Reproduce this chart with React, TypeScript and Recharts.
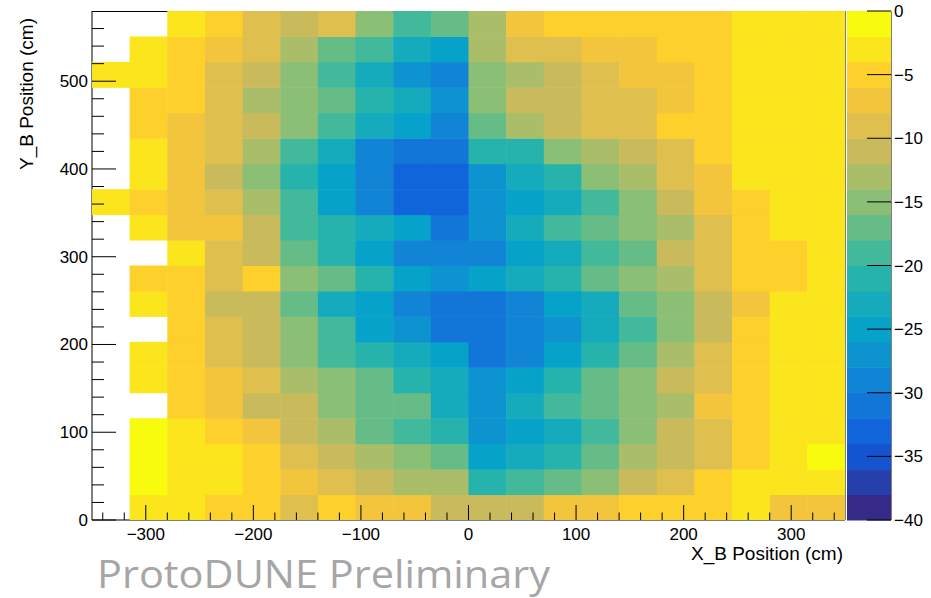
import React from 'react';
import { ScatterChart, Scatter, XAxis, YAxis, ReferenceLine } from 'recharts';

// bin centres (cm)
const X_CENTERS = [-332.5, -297.5, -262.5, -227.5, -192.5, -157.5, -122.5, -87.5, -52.5, -17.5, 17.5, 52.5, 87.5, 122.5, 157.5, 192.5, 227.5, 262.5, 297.5, 332.5];
const Y_CENTERS = [14.5, 43.5, 72.5, 101.5, 130.5, 159.5, 188.5, 217.5, 246.5, 275.5, 304.5, 333.5, 362.5, 391.5, 420.5, 449.5, 478.5, 507.5, 536.5, 565.5];

// bin contents per row, bottom row first (null = empty bin)
const ROW_00 = [null, -3, -3, -5, -5, -9, -5, -7, -7, -11, -11, -11, -7, -7, -5, -5, -5, -3, -7, -7];
const ROW_01 = [null, -1, -3, -3, -5, -7, -9, -11, -13, -13, -21, -19, -17, -15, -11, -9, -5, -3, -3, -3];
const ROW_02 = [null, -1, -3, -3, -5, -9, -11, -13, -15, -17, -25, -23, -21, -17, -13, -11, -9, -5, -3, -1];
const ROW_03 = [null, -1, -3, -5, -7, -11, -13, -17, -19, -21, -27, -25, -23, -19, -15, -11, -9, -5, -3, -3];
const ROW_04 = [null, null, -5, -7, -11, -11, -15, -17, -17, -23, -27, -23, -19, -17, -15, -13, -7, -5, -3, -3];
const ROW_05 = [null, -3, -5, -7, -9, -13, -15, -17, -21, -23, -27, -25, -21, -17, -15, -11, -9, -5, -3, -3];
const ROW_06 = [null, -3, -5, -9, -11, -15, -19, -21, -23, -25, -31, -29, -25, -21, -17, -13, -9, -5, -3, -3];
const ROW_07 = [null, null, -5, -9, -11, -15, -19, -25, -27, -31, -31, -29, -27, -23, -19, -15, -11, -5, -3, -3];
const ROW_08 = [null, -3, -5, -11, -11, -17, -23, -25, -29, -31, -31, -29, -25, -23, -17, -15, -11, -7, -3, -3];
const ROW_09 = [null, -5, -5, -9, -5, -15, -17, -21, -25, -27, -25, -23, -21, -17, -15, -13, -9, -5, -5, -3];
const ROW_10 = [null, null, -3, -9, -11, -17, -21, -25, -29, -29, -29, -25, -23, -19, -17, -11, -9, -5, -5, -3];
const ROW_11 = [null, -3, -7, -7, -11, -19, -21, -23, -25, -31, -27, -23, -19, -17, -15, -13, -9, -5, -3, -3];
const ROW_12 = [-3, -5, -7, -9, -13, -19, -25, -29, -33, -33, -27, -25, -23, -19, -15, -11, -7, -5, -3, -3];
const ROW_13 = [null, -3, -7, -11, -15, -21, -25, -29, -33, -33, -27, -23, -21, -15, -13, -9, -7, -3, -3, -3];
const ROW_14 = [null, -3, -7, -9, -13, -19, -23, -29, -31, -31, -21, -21, -15, -13, -11, -9, -5, -3, -3, -3];
const ROW_15 = [null, -5, -7, -9, -11, -15, -19, -23, -25, -29, -17, -13, -11, -9, -9, -5, -5, -3, -3, -3];
const ROW_16 = [null, -5, -5, -9, -13, -15, -17, -21, -23, -27, -15, -11, -11, -9, -9, -7, -5, -3, -3, -3];
const ROW_17 = [-3, -3, -5, -9, -11, -15, -19, -23, -27, -29, -15, -13, -11, -9, -7, -7, -5, -3, -3, -3];
const ROW_18 = [null, -3, -5, -7, -9, -13, -17, -19, -23, -25, -13, -9, -9, -7, -7, -5, -5, -3, -3, -3];
const ROW_19 = [null, null, -3, -5, -9, -11, -9, -15, -19, -17, -13, -7, -5, -5, -5, -5, -5, -3, -3, -3];

// contour levels (lower edges) of the colour scale
const LEVELS = [-40, -38, -36, -34, -32, -30, -28, -26, -24, -22, -20, -18, -16, -14, -12, -10, -8, -6, -4, -2];

const X_MAJOR = [-300, -200, -100, 0, 100, 200, 300];
const Y_MAJOR = [0, 100, 200, 300, 400, 500];
const Z_TICKS = [0, -5, -10, -15, -20, -25, -30, -35, -40];

const ROWS = [ROW_00, ROW_01, ROW_02, ROW_03, ROW_04, ROW_05, ROW_06, ROW_07, ROW_08, ROW_09,
  ROW_10, ROW_11, ROW_12, ROW_13, ROW_14, ROW_15, ROW_16, ROW_17, ROW_18, ROW_19];

// ROOT kBird palette
const BIRD_R = [0.2082, 0.0592, 0.0780, 0.0232, 0.1802, 0.5301, 0.8186, 0.9956, 0.9764];
const BIRD_G = [0.1664, 0.3599, 0.5041, 0.6419, 0.7178, 0.7492, 0.7328, 0.7862, 0.9832];
const BIRD_B = [0.5293, 0.8684, 0.8385, 0.7914, 0.6425, 0.4662, 0.3499, 0.1968, 0.0539];

const bird = (t: number) => {
  const s = t * 8;
  const k = Math.min(7, Math.floor(s));
  const f = s - k;
  const c = (a: number[]) => Math.round(255 * (a[k] + (a[k + 1] - a[k]) * f));
  return `rgb(${c(BIRD_R)},${c(BIRD_G)},${c(BIRD_B)})`;
};

const levelIndex = (v: number) => {
  let i = 0;
  LEVELS.forEach((l, j) => { if (v >= l) i = j; });
  return i;
};
const colorFor = (v: number) => bird(levelIndex(v) / (LEVELS.length - 1));

const cells: { x: number; y: number; z: number }[] = [];
ROWS.forEach((row, r) => {
  row.forEach((z, c) => {
    if (z !== null) cells.push({ x: X_CENTERS[c], y: Y_CENTERS[r], z });
  });
});
const bands = LEVELS.map((l) => ({ x: 0.5, y: l + 1, z: l + 1 }));

const W = 931;
const H = 598;
const PLOT_L = 92;
const PLOT_R = 845;
const PLOT_T = 11;
const PLOT_B = 520;
const CELL_W = (PLOT_R - PLOT_L) / X_CENTERS.length;
const CELL_H = (PLOT_B - PLOT_T) / Y_CENTERS.length;
const BAR_L = 847;
const BAR_R = 891;

const FONT = "'Liberation Sans', Arial, Helvetica, sans-serif";
const fmt = (v: number) => (v < 0 ? `\u2212${-v}` : `${v}`);

const xTicks: number[] = [];
for (let v = -340; v <= 340; v += 20) xTicks.push(v);
const yTicks: number[] = [];
for (let v = 0; v <= 560; v += 20) yTicks.push(v);

const XTick = ({ x, y, payload }: any) => {
  const major = X_MAJOR.includes(payload.value);
  return (
    <g>
      <line x1={x} x2={x} y1={y} y2={y - (major ? 15 : 7.5)} stroke="#000" />
      {major && (
        <text x={x} y={y + 20} textAnchor="middle" fontSize={17} fill="#000">{fmt(payload.value)}</text>
      )}
    </g>
  );
};

const YTick = ({ x, y, payload }: any) => {
  const major = Y_MAJOR.includes(payload.value);
  return (
    <g>
      <line x1={x} x2={x + (major ? 24 : 12)} y1={y} y2={y} stroke="#000" />
      {major && (
        <text x={x - 4} y={y + 6} textAnchor="end" fontSize={17} fill="#000">{payload.value}</text>
      )}
    </g>
  );
};

const ZTick = ({ x, y, payload }: any) => (
  <g>
    <line x1={x - 24} x2={x} y1={y} y2={y} stroke="#000" />
    <text x={x + 3} y={y + 6} textAnchor="start" fontSize={17} fill="#000">{fmt(payload.value)}</text>
  </g>
);

const Cell = ({ cx, cy, payload }: any) => (
  <rect
    x={cx - CELL_W / 2}
    y={cy - CELL_H / 2}
    width={CELL_W + 0.5}
    height={CELL_H + 0.5}
    fill={colorFor(payload.z)}
  />
);

const Band = ({ cx, cy, payload }: any) => (
  <rect
    x={cx - (BAR_R - BAR_L) / 2}
    y={cy - (PLOT_B - PLOT_T) / LEVELS.length / 2}
    width={BAR_R - BAR_L}
    height={(PLOT_B - PLOT_T) / LEVELS.length + 0.5}
    fill={colorFor(payload.z)}
  />
);

export default function App() {
  return (
    <div style={{ position: 'absolute', left: 0, top: 0, width: W, height: H, background: '#fff', fontFamily: FONT }}>
      {/* frame top edge, sits underneath the histogram cells */}
      <svg width={W} height={H} style={{ position: 'absolute', left: 0, top: 0 }}>
        <line x1={PLOT_L} x2={PLOT_R} y1={PLOT_T + 0.5} y2={PLOT_T + 0.5} stroke="#000" />
      </svg>
      <div style={{ position: 'absolute', left: 0, top: 0 }}>
        <ScatterChart
          width={W}
          height={H}
          margin={{ top: PLOT_T, right: W - PLOT_R, bottom: H - PLOT_B - 30, left: PLOT_L - 60 }}
        >
          <Scatter data={cells} shape={<Cell />} isAnimationActive={false} />
          <ReferenceLine x={350} stroke="#000" />
          <XAxis
            type="number"
            dataKey="x"
            domain={[-350, 350]}
            ticks={xTicks}
            interval={0}
            height={30}
            tickSize={0}
            tickMargin={0}
            tick={<XTick />}
            axisLine={{ stroke: '#000' }}
            allowDataOverflow
          />
          <YAxis
            type="number"
            dataKey="y"
            domain={[0, 580]}
            ticks={yTicks}
            interval={0}
            width={60}
            tickSize={0}
            tickMargin={0}
            tick={<YTick />}
            axisLine={{ stroke: '#000' }}
            allowDataOverflow
          />
        </ScatterChart>
      </div>
      <div style={{ position: 'absolute', left: PLOT_R, top: 0 }}>
        <ScatterChart
          width={W - PLOT_R}
          height={H}
          margin={{ top: PLOT_T, right: 0, bottom: H - PLOT_B, left: BAR_L - PLOT_R }}
        >
          <Scatter data={bands} shape={<Band />} isAnimationActive={false} />
          <XAxis type="number" dataKey="x" domain={[0, 1]} hide />
          <YAxis
            type="number"
            dataKey="y"
            orientation="right"
            domain={[-40, 0]}
            ticks={Z_TICKS}
            interval={0}
            width={W - PLOT_R - (BAR_R - PLOT_R)}
            tickSize={0}
            tickMargin={0}
            tick={<ZTick />}
            axisLine={{ stroke: '#000' }}
          />
        </ScatterChart>
      </div>
      <svg width={W} height={H} style={{ position: 'absolute', left: 0, top: 0, pointerEvents: 'none' }}>
        <text transform="translate(33,18) rotate(-90)" textAnchor="end" fontSize={19} fill="#000">
          Y_B Position (cm)
        </text>
        <text x={843} y={560} textAnchor="end" fontSize={19} fill="#000">X_B Position (cm)</text>
        <text
          x={97}
          y={588}
          fontSize={38}
          fill="#a6a6a6"
          fontFamily="'Open Sans', 'Noto Sans', sans-serif"
          textLength={453}
          lengthAdjust="spacingAndGlyphs"
        >
          ProtoDUNE Preliminary
        </text>
      </svg>
    </div>
  );
}
